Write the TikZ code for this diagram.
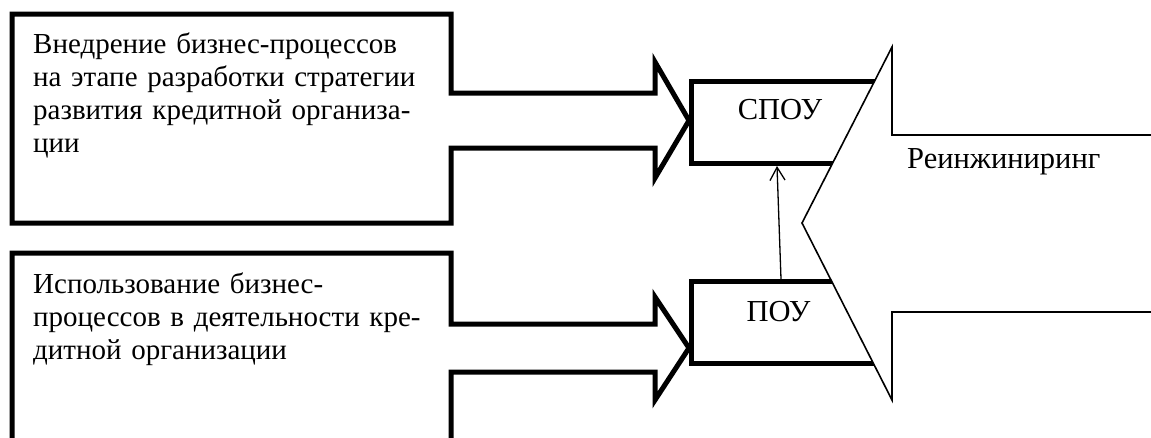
\documentclass[tikz,border=0pt]{standalone}
\usepackage{fontspec}
\setmainfont{Liberation Serif}
\usetikzlibrary{arrows.meta}
\begin{document}
\begin{tikzpicture}[x=1pt,y=-1pt,
  thickline/.style={line width=5pt, line join=miter, miter limit=12},
  thinline/.style={line width=1.6pt, line join=miter, miter limit=12},
  linkarrow/.style={line width=1.3pt, -{Straight Barb[length=13pt,width=15pt,line width=1.3pt]}},
  lbl/.style={inner sep=0pt, font=\fontsize{30.5}{33.3}\selectfont},
  blocktext/.style={inner sep=0pt, font=\fontsize{29}{33.3}\selectfont, text width=418pt, align=left, anchor=base west},
]
\useasboundingbox (0,0) rectangle (1151,437);

% top input callout
\draw[thickline] (12,14) -- (451,14) -- (451,93) -- (655,93) -- (655,62)
  -- (689,120.5) -- (655,178) -- (655,148) -- (451,148) -- (451,223)
  -- (12,223) -- cycle;
% bottom input callout (open at the bottom)
\draw[thickline] (12,450) -- (12,253) -- (451,253) -- (451,324) -- (655,324)
  -- (655,297) -- (689,348) -- (655,400) -- (655,372) -- (451,372) -- (451,450);

% boxes, cut by the big arrow's diagonal
\begin{scope}
  \clip (0,0) -- (916,0) -- (802,223) -- (911,437) -- (0,437) -- cycle;
  \draw[thickline] (691,81) rectangle (960,163.5);
  \draw[thickline] (691,281) rectangle (960,363.5);
\end{scope}

% big reengineering arrow
\draw[thinline] (1160,135) -- (892,135) -- (892,47) -- (802,223)
  -- (892,400) -- (892,312) -- (1160,312);

% texts
\node[blocktext] (t1) at (33,53) {Внедрение бизнес-процессов\\на этапе разработки стратегии\\развития кредитной организа-\\ции};
\node[blocktext] (t2) at (33,293) {Использование бизнес-\\процессов в деятельности кре-\\дитной организации};
\node[lbl, anchor=base] (spou) at (780,119) {СПОУ};
\node[lbl, anchor=base] (pou) at (778.5,321) {ПОУ};
\node[lbl, anchor=base west] (reng) at (907,168) {Реинжиниринг};

% link from ПОУ to СПОУ
\coordinate (pouTop) at (781,279);
\coordinate (spouBottom) at (777,166);
\draw[linkarrow] (pouTop) -- (spouBottom);
\end{tikzpicture}
\end{document}
